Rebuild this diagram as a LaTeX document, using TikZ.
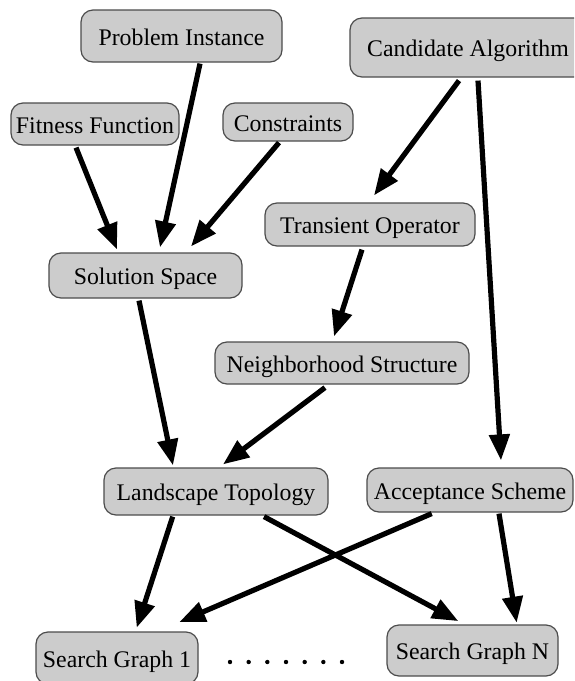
\documentclass[tikz,border=0pt]{standalone}
\usepackage{fontspec}
\setmainfont{Liberation Serif}
\usetikzlibrary{arrows.meta,calc}
\definecolor{boxfill}{gray}{0.8}
\definecolor{boxline}{gray}{0.3}
\tikzset{
  box/.style={draw=boxline, fill=boxfill, line width=0.6pt, rounded corners=6pt,
    inner sep=0pt, font=\fontsize{11.9}{14}\selectfont,
    text height=0.9em, text depth=0pt},
  link/.style={line width=2.6pt, -{Triangle[length=13pt,width=10pt]}},
}
\begin{document}
\begin{tikzpicture}[x=0.5pt, y=-0.5pt]
\useasboundingbox (0,0) rectangle (574,681);
\clip (0,0) rectangle (574,681);

% boxes
\node[box, minimum width=100.5pt, minimum height=26pt]   (pi)  at (181.5,36)  {Problem Instance};
\node[box, minimum width=118pt,   minimum height=29.5pt] (ca)  at (468,47.5)  {Candidate Algorithm};
\node[box, minimum width=84pt,    minimum height=21pt]   (ff)  at (95,124)    {Fitness Function};
\node[box, minimum width=65pt,    minimum height=19pt]   (co)  at (288,122)   {Constraints};
\node[box, minimum width=96.5pt,  minimum height=22.5pt] (ss)  at (145.5,275.5) {Solution Space};
\node[box, minimum width=105pt,   minimum height=21.5pt] (to)  at (370,224.5) {Transient Operator};
\node[box, minimum width=127pt,   minimum height=21pt]   (ns)  at (342,363)   {Neighborhood Structure};
\node[box, minimum width=112pt,   minimum height=23.5pt] (lt)  at (216,491.5) {Landscape Topology};
\node[box, minimum width=103pt,   minimum height=22pt]   (as)  at (470,490)   {Acceptance Scheme};
\node[box, minimum width=81pt,    minimum height=26pt]   (sg1) at (117,658)   {Search Graph 1};
\node[box, minimum width=85.5pt,  minimum height=25.5pt] (sgn) at (472.5,650.5) {Search Graph N};

% ellipsis between the search graphs
\foreach \i in {0,...,6}
  \fill ({230+18.67*\i},662) circle (1.1pt);

% connectors
\draw[link] ($(pi.south)+(18.5,1)$)  -- ($(ss.north)+(14.5,-5)$);
\draw[link] ($(ff.south)+(-19,2)$)   -- ($(ss.north)+(-28.5,-3)$);
\draw[link] ($(co.south)+(-9,1)$)    -- ($(ss.north)+(45.5,-6)$);
\draw[link] ($(ca.south)+(-9,3)$)    -- ($(to.north)+(4,-7)$);
\draw[link] ($(ca.south)+(10,3)$)    -- ($(as.north)+(31,-7)$);
\draw[link] ($(to.south)+(-8,3)$)    -- ($(ns.north)+(-8,-5)$);
\draw[link] ($(ss.south)+(-6.5,2)$)  -- ($(lt.north)+(-43,-2)$);
\draw[link] ($(ns.south)+(-17,3)$)   -- ($(lt.north)+(7,-3)$);
\draw[link] ($(lt.south)+(-43.3,1)$) -- ($(sg1.north)+(19.7,-3.7)$);
\draw[link] ($(lt.south)+(48,1)$)    -- ($(sgn.north)+(-14.2,-3.3)$);
\draw[link] ($(as.south)+(-38.3,1)$) -- ($(sg1.north)+(62.3,-9.3)$);
\draw[link] ($(as.south)+(29,1)$)    -- ($(sgn.north)+(44.2,-1.7)$);
\end{tikzpicture}
\end{document}
